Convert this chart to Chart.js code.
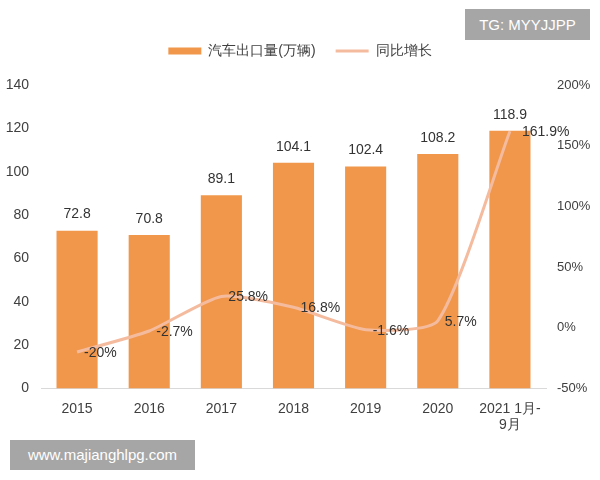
<!DOCTYPE html>
<html>
<head>
<meta charset="utf-8">
<script src="https://cdn.jsdelivr.net/npm/chart.js@4/dist/chart.umd.min.js"></script>
<style>
  body { margin: 0; background: #fff; }
  #wrap { position: relative; width: 600px; height: 480px; }
  .mark { position: absolute; background: #a6a6a6; color: #fff; font-family: "Liberation Sans", Arial, sans-serif; font-size: 15px; line-height: 31px; text-align: center; }
</style>
</head>
<body>
<div id="wrap">
  <canvas id="chart" width="600" height="480"></canvas>
  <div class="mark" style="left:465px; top:9px; width:125px; height:31px;">TG: MYYJJPP</div>
  <div class="mark" style="left:10px; top:440px; width:185px; height:30px; line-height:30px;">www.majianghlpg.com</div>
</div>
<script>
let years = ['2015', '2016', '2017', '2018', '2019', '2020', ['2021 1月-', '9月']];
let exports = [72.8, 70.8, 89.1, 104.1, 102.4, 108.2, 118.9];
let growth = [-20, -2.7, 25.8, 16.8, -1.6, 5.7, 161.9];
let growthLabels = ['-20%', '-2.7%', '25.8%', '16.8%', '-1.6%', '5.7%', '161.9%'];

let barColor = '#f0974b';
let lineColor = '#f5bb9e';
let fontFamily = '"Liberation Sans", Arial, sans-serif';

// value labels above bars and right of line points
let valueLabels = {
    id: 'valueLabels',
    afterDatasetsDraw(chart) {
        let ctx = chart.ctx;
        ctx.save();
        ctx.fillStyle = '#333';
        ctx.font = '14px ' + fontFamily;
        let bars = chart.getDatasetMeta(0).data;
        ctx.textAlign = 'center';
        ctx.textBaseline = 'bottom';
        bars.forEach((bar, i) => {
            ctx.fillText(exports[i].toFixed(1), bar.x, bar.y - 9);
        });
        let pts = chart.getDatasetMeta(1).data;
        ctx.textAlign = 'left';
        ctx.textBaseline = 'middle';
        pts.forEach((p, i) => {
            ctx.fillText(growthLabels[i], p.x + (i == 6 ? 12 : 7), p.y + 1);
        });
        ctx.restore();
    }
};

// extra room between the legend and the plot
let legendGap = {
    id: 'legendGap',
    afterInit(chart) {
        let lg = chart.legend;
        let fit = lg.fit;
        lg.fit = function () {
            fit.call(this);
            this.height += 17;
        };
    }
};

let chart = new Chart(document.getElementById('chart').getContext('2d'), {
    data: {
        labels: years,
        datasets: [{
            type: 'bar',
            label: '汽车出口量(万辆)',
            data: exports,
            backgroundColor: barColor,
            borderWidth: 0,
            yAxisID: 'y',
            order: 1,
            pointStyle: 'rect',
            barPercentage: 0.57,
            categoryPercentage: 1
        }, {
            type: 'line',
            label: '同比增长',
            data: growth,
            borderColor: lineColor,
            backgroundColor: lineColor,
            borderWidth: 3,
            pointRadius: 0,
            tension: 0.2,
            yAxisID: 'y1',
            order: 0,
            pointStyle: 'line'
        }]
    },
    options: {
        responsive: false,
        animation: false,
        layout: { padding: { top: 24, left: 0, right: 0, bottom: 42 } },
        plugins: {
            tooltip: { enabled: false },
            legend: {
                labels: {
                    usePointStyle: true,
                    pointStyleWidth: 33,
                    boxHeight: 7,
                    padding: 20,
                    color: '#404040',
                    font: { size: 14, family: fontFamily },
                    sort: (a, b) => a.datasetIndex - b.datasetIndex
                }
            }
        },
        scales: {
            x: {
                grid: { display: false },
                border: { color: '#d9d9d9' },
                ticks: { color: '#404040', font: { size: 14, family: fontFamily }, padding: 4, maxRotation: 0, autoSkip: false }
            },
            y: {
                position: 'left',
                min: 0,
                max: 140,
                grid: { display: false },
                border: { display: false },
                ticks: { stepSize: 20, color: '#404040', font: { size: 14, family: fontFamily }, padding: 4 },
                afterFit: s => { s.width = 41; }
            },
            y1: {
                position: 'right',
                min: -50,
                max: 200,
                grid: { display: false },
                border: { display: false },
                ticks: { stepSize: 50, color: '#404040', font: { size: 13, family: fontFamily }, padding: 3, callback: v => v + '%' },
                afterFit: s => { s.width = 54; }
            }
        }
    },
    plugins: [valueLabels, legendGap]
});
</script>
</body>
</html>
